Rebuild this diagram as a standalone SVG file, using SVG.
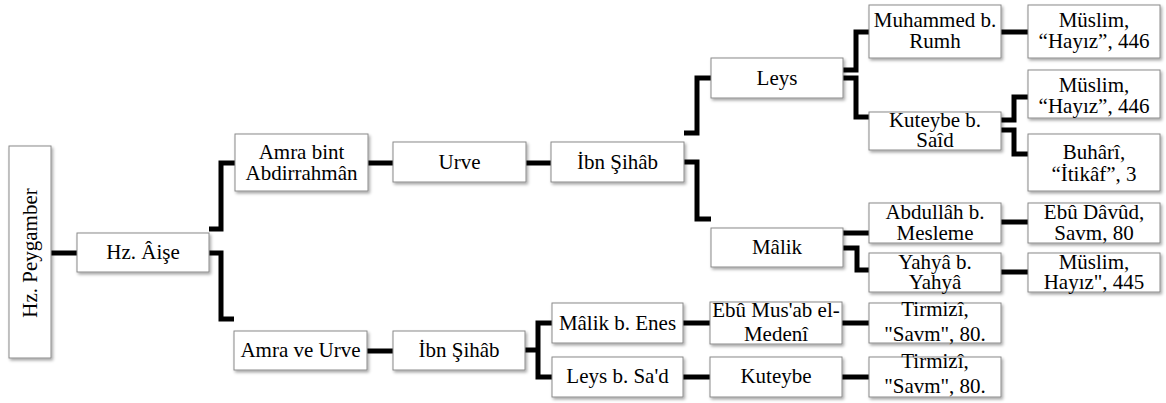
<svg xmlns="http://www.w3.org/2000/svg" width="1166" height="403" viewBox="0 0 1166 403">
<defs>
<filter id="sh" x="-10%" y="-10%" width="130%" height="140%">
<feDropShadow dx="1.5" dy="2" stdDeviation="1.5" flood-color="#000" flood-opacity="0.35"/>
</filter>
</defs>
<style>
rect{fill:#fff;stroke:#8a8a8a;stroke-width:1;filter:url(#sh)}
text{font-family:"Liberation Serif","Times New Roman",serif;font-size:21px;fill:#000;text-anchor:middle}
#connectors path{fill:none;stroke:#000;stroke-width:5;stroke-linejoin:miter;stroke-linecap:butt}
</style>
<rect x="0" y="0" width="1166" height="403" style="fill:#fff;stroke:none;filter:none"/>
<g id="connectors">
<path d="M51,253 H77"/>
<path d="M209,229 H221 V163 H235"/>
<path d="M209,253 H221 V319 H234"/>
<path d="M368,163 H393"/>
<path d="M526,163 H551"/>
<path d="M684,133 H697 V78 H711"/>
<path d="M684,162 H697 V219 H711"/>
<path d="M843,70 H856 V32 H869"/>
<path d="M843,78 H856 V117 H869"/>
<path d="M1001,32 H1028"/>
<path d="M1001,120 H1014 V97 H1028"/>
<path d="M1001,130 H1014 V154 H1028"/>
<path d="M843,233 H869"/>
<path d="M843,248 H857 V270 H869"/>
<path d="M1001,222 H1028"/>
<path d="M1001,272 H1028"/>
<path d="M367,351 H393"/>
<path d="M525,350 H538"/>
<path d="M552,323 H538 V377 H552"/>
<path d="M683,323 H710"/>
<path d="M683,377 H710"/>
<path d="M842,323 H869"/>
<path d="M842,377 H869"/>
</g>
<g id="n-peygamber"><rect x="9" y="146" width="42" height="212"/><text transform="translate(37,253) rotate(-90)">Hz. Peygamber</text></g>
<g id="n-aise"><rect x="77" y="233" width="132" height="39"/><text x="143" y="259">Hz. Âişe</text></g>
<g id="n-amra-bint"><rect x="235" y="134" width="133" height="57"/><text x="301.5" y="159">Amra bint</text><text x="301.5" y="180">Abdirrahmân</text></g>
<g id="n-urve"><rect x="393" y="142" width="133" height="40"/><text x="459.5" y="169">Urve</text></g>
<g id="n-ibnsihab1"><rect x="551" y="142" width="133" height="40"/><text x="617.5" y="169">İbn Şihâb</text></g>
<g id="n-leys"><rect x="711" y="58" width="132" height="40"/><text x="777" y="85">Leys</text></g>
<g id="n-malik"><rect x="711" y="228" width="132" height="39"/><text x="777" y="254">Mâlik</text></g>
<g id="n-muhammed"><rect x="869" y="5" width="132" height="53"/><text x="935" y="27">Muhammed b.</text><text x="935" y="48">Rumh</text></g>
<g id="n-muslim1"><rect x="1028" y="5" width="132" height="53"/><text x="1094" y="27">Müslim,</text><text x="1094" y="48">“Hayız”, 446</text></g>
<g id="n-kuteybe-said"><rect x="869" y="112" width="132" height="38"/><text x="935" y="127">Kuteybe b.</text><text x="935" y="147">Saîd</text></g>
<g id="n-muslim2"><rect x="1028" y="70" width="132" height="48"/><text x="1094" y="92">Müslim,</text><text x="1094" y="113">“Hayız”, 446</text></g>
<g id="n-buhari"><rect x="1028" y="134" width="132" height="57"/><text x="1094" y="159">Buhârî,</text><text x="1094" y="181">“İtikâf”, 3</text></g>
<g id="n-abdullah"><rect x="869" y="203" width="132" height="40"/><text x="935" y="219">Abdullâh b.</text><text x="935" y="240">Mesleme</text></g>
<g id="n-ebudavud"><rect x="1028" y="203" width="132" height="40"/><text x="1094" y="219">Ebû Dâvûd,</text><text x="1094" y="240">Savm, 80</text></g>
<g id="n-yahya"><rect x="869" y="253" width="132" height="39"/><text x="935" y="269">Yahyâ b.</text><text x="935" y="289">Yahyâ</text></g>
<g id="n-muslim445"><rect x="1028" y="253" width="132" height="39"/><text x="1094" y="269">Müslim,</text><text x="1094" y="289">Hayız", 445</text></g>
<g id="n-amra-urve"><rect x="234" y="331" width="133" height="39"/><text x="300.5" y="357">Amra ve Urve</text></g>
<g id="n-ibnsihab2"><rect x="393" y="331" width="132" height="39"/><text x="459" y="357">İbn Şihâb</text></g>
<g id="n-malik-enes"><rect x="552" y="303" width="131" height="40"/><text x="617.5" y="330">Mâlik b. Enes</text></g>
<g id="n-leys-sad"><rect x="552" y="357" width="131" height="40"/><text x="617.5" y="383">Leys b. Sa'd</text></g>
<g id="n-ebumusab"><rect x="710" y="302" width="132" height="42"/><text x="776" y="317">Ebû Mus'ab el-</text><text x="776" y="341">Medenî</text></g>
<g id="n-kuteybe"><rect x="710" y="357" width="132" height="40"/><text x="776" y="383">Kuteybe</text></g>
<g id="n-tirmizi1"><rect x="869" y="303" width="132" height="40"/><text x="935" y="316">Tirmizî,</text><text x="935" y="341">"Savm", 80.</text></g>
<g id="n-tirmizi2"><rect x="869" y="357" width="132" height="40"/><text x="935" y="368">Tirmizî,</text><text x="935" y="393">"Savm", 80.</text></g>
</svg>
